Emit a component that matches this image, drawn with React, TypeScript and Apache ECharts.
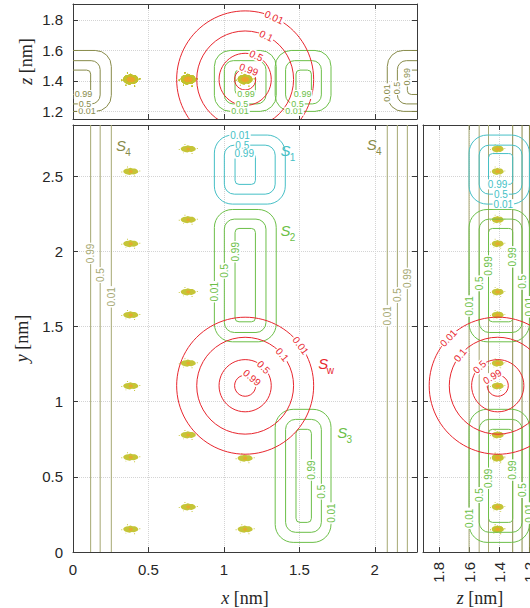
import { useEffect, useRef } from 'react';
import * as echarts from 'echarts';

// ---- simulation box (nm) ----
const BOX_X = 2.28;
const BOX_Y = 2.84;
const Z_RANGE = [1.15, 1.905];

// ---- contour levels ----
const LEVELS = ['0.01', '0.5', '0.99'];
const SW_LEVELS = ['0.01', '0.1', '0.5', '0.99'];

// Tube footprints, one [min, max] pair per level (0.01, 0.5, 0.99)
const s1X = [[0.937, 1.407], [1.003, 1.34], [1.074, 1.209]];
const s1Y = [[2.314, 2.773], [2.38, 2.706], [2.445, 2.65]];
const s2X = [[0.937, 1.347], [1.003, 1.279], [1.074, 1.209]];
const s2Y = [[1.398, 2.278], [1.46, 2.214], [1.531, 2.152]];
const s3X = [[1.34, 1.71], [1.409, 1.646], [1.478, 1.58]];
const s3Y = [[0.064, 0.949], [0.131, 0.882], [0.197, 0.816]];
const tubeZ = [[1.2, 1.6], [1.249, 1.533], [1.311, 1.471]];
// S4 slab along y, wrapping through the periodic x boundary
const s4X = [[2.083, 2.534], [2.15, 2.46], [2.216, 2.397]];

// Water sphere
const swCenter = [1.141, 1.106, 1.41];
const swR = [0.454, 0.321, 0.173, 0.07];

// Atom positions (nm)
const atomX = [0.383, 0.383, 0.383, 0.383, 0.383, 0.383, 0.764, 0.764, 0.764, 0.764, 0.764, 0.764, 1.141, 1.141];
const atomY = [2.53, 2.05, 1.576, 1.104, 0.63, 0.151, 2.68, 2.21, 1.73, 1.255, 0.778, 0.3, 0.623, 0.151];
const atomZ = [1.41, 1.41, 1.41, 1.41, 1.41, 1.41, 1.41, 1.41, 1.41, 1.41, 1.41, 1.41, 1.41, 1.41];

// ---- colours ----
const RED = '#e8262e';
const GREEN = '#6cbf48';
const CYAN = '#45bfc6';
const OLIVE = '#a6a872';
const OLIVE_DK = '#888b4a';
const INK = '#262626';
const AX = '#3a3a3a';

const RADII = [18, 10, 4];
const RADII_TOP = [16, 9, 4];

const BLOB =
  'path://M36 9.5L35 12.5L31 14.5L27 16L22 15.5L18 17L13 16L8 14.5L5 12L4 9L6 6.5L10 4.5L15 4L19 2.5L24 4L29 4L33 6Z' +
  'M0 10h2v2h-2Z M38 8h2v2h-2Z M12 0h2v2h-2Z M27 18h2v2h-2Z M9 17h1.5v1.5h-1.5Z';

type Shape =
  | { k: 'rect'; x: number[]; y: number[]; r: number; c: string }
  | { k: 'circle'; cx: number; cy: number; rad: number; c: string }
  | { k: 'vline'; x: number; c: string }
  | { k: 'text'; x: number; y: number; t: string; rot: number; c: string; font?: string; bg?: boolean; dx?: number; dy?: number }
  | { k: 'arcText'; cx: number; cy: number; rad: number; ang: number; t: string; c: string };

const LBL_FONT = '10px "Liberation Sans", Arial, sans-serif';
const SMALL_FONT = '9px "Liberation Sans", Arial, sans-serif';
const TAG_FONT = 'italic 15px "Liberation Sans", Arial, sans-serif';
const SUB_FONT = '10px "Liberation Sans", Arial, sans-serif';

function tag(shapes: Shape[], x: number, y: number, sub: string, c: string) {
  shapes.push({ k: 'text', x, y, t: 'S', rot: 0, c, font: TAG_FONT });
  shapes.push({ k: 'text', x, y, t: sub, rot: 0, c, font: SUB_FONT, dx: 7, dy: 7 });
}

// ---------- x–y view ----------
function mainShapes(): Shape[] {
  const s: Shape[] = [];
  const labels: Shape[] = [];
  LEVELS.forEach((lv, i) => {
    s.push({ k: 'vline', x: s4X[i][0], c: OLIVE });
    s.push({ k: 'vline', x: s4X[i][1] - BOX_X, c: OLIVE });
    s.push({ k: 'rect', x: s1X[i], y: s1Y[i], r: RADII[i], c: CYAN });
    s.push({ k: 'rect', x: s2X[i], y: s2Y[i], r: RADII[i], c: GREEN });
    s.push({ k: 'rect', x: s3X[i], y: s3Y[i], r: RADII[i], c: GREEN });
  });
  swR.forEach((r) => s.push({ k: 'circle', cx: swCenter[0], cy: swCenter[1], rad: r, c: RED }));

  const s4LeftY = [1.697, 1.842, 1.986];
  const s4RightY = [1.571, 1.709, 1.82];
  const s1LblX = [1.107, 1.122, 1.135];
  const s2LblY = [1.731, 1.87, 1.997];
  const s3LblY = [0.259, 0.401, 0.545];
  LEVELS.forEach((lv, i) => {
    labels.push({ k: 'text', x: s4X[i][1] - BOX_X, y: s4LeftY[i], t: lv, rot: 90, c: OLIVE, bg: true });
    labels.push({ k: 'text', x: s4X[i][0], y: s4RightY[i], t: lv, rot: 90, c: OLIVE, bg: true });
    labels.push({ k: 'text', x: s1LblX[i], y: s1Y[i][1], t: lv, rot: 0, c: CYAN, bg: true });
    labels.push({ k: 'text', x: s2X[i][0], y: s2LblY[i], t: lv, rot: 90, c: GREEN, bg: true });
    labels.push({ k: 'text', x: s3X[i][1], y: s3LblY[i], t: lv, rot: 90, c: GREEN, bg: true });
  });
  const swAng = [36, 40, 45, 50];
  SW_LEVELS.forEach((lv, i) =>
    labels.push({ k: 'arcText', cx: swCenter[0], cy: swCenter[1], rad: swR[i], ang: swAng[i], t: lv, c: RED })
  );
  tag(labels, 0.318, 2.706, '4', OLIVE_DK);
  tag(labels, 1.98, 2.713, '4', OLIVE_DK);
  tag(labels, 1.409, 2.673, '1', CYAN);
  tag(labels, 1.409, 2.141, '2', GREEN);
  tag(labels, 1.659, 1.255, 'w', RED);
  tag(labels, 1.785, 0.793, '3', GREEN);
  return s.concat(labels);
}

// ---------- x–z view ----------
function topShapes(): Shape[] {
  const s: Shape[] = [];
  const labels: Shape[] = [];
  LEVELS.forEach((lv, i) => {
    s.push({ k: 'rect', x: s4X[i], y: tubeZ[i], r: RADII_TOP[i], c: OLIVE_DK });
    s.push({ k: 'rect', x: [s4X[i][0] - BOX_X, s4X[i][1] - BOX_X], y: tubeZ[i], r: RADII_TOP[i], c: OLIVE_DK });
    s.push({ k: 'rect', x: s2X[i], y: tubeZ[i], r: RADII_TOP[i], c: GREEN });
    s.push({ k: 'rect', x: s3X[i], y: tubeZ[i], r: RADII_TOP[i], c: GREEN });
  });
  swR.forEach((r) => s.push({ k: 'circle', cx: swCenter[0], cy: swCenter[2], rad: r, c: RED }));

  const s4LeftX = [0.093, 0.08, 0.07];
  const s4RightZ = [1.32, 1.354, 1.427];
  const s2LblX = [1.107, 1.12, 1.146];
  const s3LblX = [1.465, 1.488, 1.522];
  LEVELS.forEach((lv, i) => {
    labels.push({ k: 'text', x: s4LeftX[i], y: tubeZ[i][0], t: lv, rot: 0, c: OLIVE_DK, bg: true, font: SMALL_FONT });
    labels.push({ k: 'text', x: s4X[i][0], y: s4RightZ[i], t: lv, rot: 90, c: OLIVE_DK, bg: true, font: SMALL_FONT });
    labels.push({ k: 'text', x: s2LblX[i], y: tubeZ[i][0], t: lv, rot: 0, c: GREEN, bg: true, font: SMALL_FONT });
    labels.push({ k: 'text', x: s3LblX[i], y: tubeZ[i][0], t: lv, rot: 0, c: GREEN, bg: true, font: SMALL_FONT });
  });
  const swAng = [65, 64, 65, 70];
  SW_LEVELS.forEach((lv, i) =>
    labels.push({ k: 'arcText', cx: swCenter[0], cy: swCenter[2], rad: swR[i], ang: swAng[i], t: lv, c: RED })
  );
  return s.concat(labels);
}

// ---------- z–y view ----------
function rightShapes(): Shape[] {
  const s: Shape[] = [];
  const labels: Shape[] = [];
  LEVELS.forEach((lv, i) => {
    s.push({ k: 'vline', x: tubeZ[i][0], c: OLIVE_DK });
    s.push({ k: 'vline', x: tubeZ[i][1], c: OLIVE });
  });
  LEVELS.forEach((lv, i) => {
    s.push({ k: 'rect', x: tubeZ[i], y: s1Y[i], r: RADII[i], c: CYAN });
    s.push({ k: 'rect', x: tubeZ[i], y: s2Y[i], r: RADII[i], c: GREEN });
    s.push({ k: 'rect', x: tubeZ[i], y: s3Y[i], r: RADII[i], c: GREEN });
  });
  swR.forEach((r) => s.push({ k: 'circle', cx: swCenter[2], cy: swCenter[1], rad: r, c: RED }));

  const s1LblZ = [1.373, 1.389, 1.411];
  const s2HiY = [1.636, 1.787, 1.902];
  const s2LoY = [1.631, 1.797, 1.963];
  const s3HiY = [0.224, 0.379, 0.49];
  const s3LoY = [0.259, 0.412, 0.545];
  LEVELS.forEach((lv, i) => {
    labels.push({ k: 'text', x: s1LblZ[i], y: s1Y[i][0], t: lv, rot: 0, c: CYAN, bg: true });
    labels.push({ k: 'text', x: tubeZ[i][1], y: s2HiY[i], t: lv, rot: 90, c: GREEN, bg: true });
    labels.push({ k: 'text', x: tubeZ[i][0], y: s2LoY[i], t: lv, rot: 90, c: GREEN, bg: true });
    labels.push({ k: 'text', x: tubeZ[i][1], y: s3HiY[i], t: lv, rot: 90, c: GREEN, bg: true });
    labels.push({ k: 'text', x: tubeZ[i][0], y: s3LoY[i], t: lv, rot: 90, c: GREEN, bg: true });
  });
  const swAng = [136, 141, 134, 121];
  SW_LEVELS.forEach((lv, i) =>
    labels.push({ k: 'arcText', cx: swCenter[2], cy: swCenter[1], rad: swR[i], ang: swAng[i], t: lv, c: RED })
  );
  return s.concat(labels);
}

function textEl(x: number, y: number, t: string, rotDeg: number, c: string, font: string, bg: boolean) {
  return {
    type: 'text',
    x,
    y,
    rotation: (rotDeg * Math.PI) / 180,
    z2: 10,
    style: {
      text: t,
      fill: c,
      font,
      lineHeight: parseInt(font.replace(/^\D*/, ''), 10),
      align: 'center',
      verticalAlign: 'middle',
      backgroundColor: bg ? '#ffffff' : 'transparent',
      padding: bg ? [0, 1] : 0,
    },
  };
}

function renderer(shapes: Shape[]) {
  return (params: any, api: any) => {
    const s = shapes[params.dataIndex];
    const cs = params.coordSys;
    if (s.k === 'rect') {
      const a = api.coord([s.x[0], s.y[0]]);
      const b = api.coord([s.x[1], s.y[1]]);
      return {
        type: 'rect',
        z2: 1,
        shape: {
          x: Math.min(a[0], b[0]),
          y: Math.min(a[1], b[1]),
          width: Math.abs(b[0] - a[0]),
          height: Math.abs(b[1] - a[1]),
          r: s.r,
        },
        style: { fill: 'none', stroke: s.c, lineWidth: 1 },
      };
    }
    if (s.k === 'circle') {
      const c = api.coord([s.cx, s.cy]);
      const e = api.coord([s.cx + s.rad, s.cy]);
      return {
        type: 'circle',
        z2: 2,
        shape: { cx: c[0], cy: c[1], r: Math.abs(e[0] - c[0]) },
        style: { fill: 'none', stroke: s.c, lineWidth: 1 },
      };
    }
    if (s.k === 'vline') {
      const p = api.coord([s.x, 0]);
      return {
        type: 'line',
        z2: 0,
        shape: { x1: p[0], y1: cs.y, x2: p[0], y2: cs.y + cs.height },
        style: { stroke: s.c, lineWidth: 1 },
      };
    }
    if (s.k === 'text') {
      const p = api.coord([s.x, s.y]);
      return textEl(p[0] + (s.dx || 0), p[1] + (s.dy || 0), s.t, s.rot, s.c, s.font || LBL_FONT, !!s.bg);
    }
    const c = api.coord([s.cx, s.cy]);
    const e = api.coord([s.cx + s.rad, s.cy]);
    const r = Math.abs(e[0] - c[0]);
    const a = (s.ang * Math.PI) / 180;
    return textEl(c[0] + r * Math.cos(a), c[1] - r * Math.sin(a), s.t, s.ang - 90, s.c, LBL_FONT, true);
  };
}

function contourSeries(shapes: Shape[], xIdx: number, yIdx: number, anchor: number[]) {
  return {
    type: 'custom',
    xAxisIndex: xIdx,
    yAxisIndex: yIdx,
    clip: true,
    silent: true,
    z: 5,
    data: shapes.map(() => anchor),
    renderItem: renderer(shapes),
  };
}

function atomSeries(pts: number[][], xIdx: number, yIdx: number, size: number[], core: number[]) {
  return [
    {
      type: 'scatter',
      xAxisIndex: xIdx,
      yAxisIndex: yIdx,
      silent: true,
      z: 2,
      symbol: BLOB,
      symbolSize: size,
      itemStyle: { color: '#c2c22c', opacity: 0.95 },
      data: pts,
    },
    {
      type: 'scatter',
      xAxisIndex: xIdx,
      yAxisIndex: yIdx,
      silent: true,
      z: 3,
      symbol: 'circle',
      symbolSize: core,
      itemStyle: { color: '#eba52c', opacity: 0.85 },
      data: pts,
    },
  ];
}

const SERIF = '"Liberation Serif", "DejaVu Serif", serif';
const nameStyle = {
  fontFamily: SERIF,
  fontSize: 18,
  lineHeight: 18,
  color: INK,
  rich: {
    i: { fontFamily: SERIF, fontStyle: 'italic', fontSize: 18, lineHeight: 18, color: INK },
  },
};
const labelStyle = { color: INK, fontSize: 15, fontFamily: '"Liberation Sans", Arial, sans-serif', margin: 10 };
const splitStyle = { show: true, lineStyle: { color: '#d4d4d4', type: 'dotted', width: 1 } };

const halfFmt = (v: number) => (Math.abs(v * 2 - Math.round(v * 2)) < 1e-6 ? String(Math.round(v * 2) / 2) : '');
const fifthFmt = (v: number) => {
  const k = Math.round(v * 5);
  return Math.abs(v * 5 - k) < 1e-6 ? (k / 5).toFixed(1) : '';
};

function axis(gridIndex: number, position: string, extra: any) {
  return {
    type: 'value',
    gridIndex,
    position,
    nameMoveOverlap: false,
    axisLine: { show: true, onZero: false, lineStyle: { color: AX, width: 1 } },
    axisTick: { show: true, inside: true, length: 5, lineStyle: { color: AX } },
    splitLine: { show: false },
    axisLabel: { show: false },
    ...extra,
  };
}

function buildOption() {
  const xy = atomX.map((x, i) => [x, atomY[i]]);
  const xz = atomX.map((x, i) => [x, atomZ[i]]);
  const zy = atomZ.map((z, i) => [z, atomY[i]]);
  const xScale = { min: 0, max: BOX_X, interval: 0.5 };
  const yScale = { min: 0, max: BOX_Y, interval: 0.5 };
  const zScale = { min: Z_RANGE[0], max: Z_RANGE[1], splitNumber: 4 };

  return {
    animation: false,
    backgroundColor: '#ffffff',
    grid: [
      { left: 73, top: 125, width: 344, height: 427, outerBoundsMode: 'none', containLabel: false },
      { left: 73, top: 4, width: 344, height: 115, outerBoundsMode: 'none', containLabel: false },
      { left: 423, top: 125, width: 114, height: 427, outerBoundsMode: 'none', containLabel: false },
    ],
    // x axes: 0/1 main (bottom/top), 2/3 x–z strip, 4/5 z–y strip
    xAxis: [
      axis(0, 'bottom', {
        ...xScale,
        splitLine: splitStyle,
        axisLabel: { ...labelStyle, formatter: halfFmt },
        name: '{i|x} [nm]',
        nameLocation: 'middle',
        nameGap: 37,
        nameTextStyle: nameStyle,
      }),
      axis(0, 'top', { ...xScale }),
      axis(1, 'bottom', { ...xScale, splitLine: splitStyle }),
      axis(1, 'top', { ...xScale }),
      axis(2, 'bottom', {
        ...zScale,
        inverse: true,
        splitLine: splitStyle,
        axisLabel: { ...labelStyle, rotate: 90, formatter: fifthFmt },
        name: '{i|z} [nm]',
        nameLocation: 'middle',
        nameGap: 37,
        nameTextStyle: nameStyle,
      }),
      axis(2, 'top', { ...zScale, inverse: true }),
    ],
    // y axes: 0/1 main (left/right), 2/3 x–z strip, 4 z–y strip
    yAxis: [
      axis(0, 'left', {
        ...yScale,
        splitLine: splitStyle,
        axisLabel: { ...labelStyle, formatter: halfFmt },
        name: '{i|y} [nm]',
        nameLocation: 'middle',
        nameGap: 42,
        nameRotate: 90,
        nameTextStyle: nameStyle,
      }),
      axis(0, 'right', { ...yScale }),
      axis(1, 'left', {
        ...zScale,
        splitLine: splitStyle,
        axisLabel: { ...labelStyle, formatter: fifthFmt },
        name: '{i|z} [nm]',
        nameLocation: 'middle',
        nameGap: 38,
        nameRotate: 90,
        nameTextStyle: nameStyle,
      }),
      axis(1, 'right', { ...zScale }),
      axis(2, 'left', { ...yScale, splitLine: splitStyle }),
    ],
    series: [
      ...atomSeries(xy, 0, 0, [19, 10], [4, 3]),
      ...atomSeries(xz, 2, 2, [19, 15], [8, 5]),
      ...atomSeries(zy, 4, 4, [15, 10], [5, 3]),
      contourSeries(mainShapes(), 0, 0, [1, 1]),
      contourSeries(topShapes(), 2, 2, [1, 1.5]),
      contourSeries(rightShapes(), 4, 4, [1.5, 1]),
    ],
  };
}

export default function App() {
  const ref = useRef<HTMLDivElement>(null);
  useEffect(() => {
    if (!ref.current) return;
    const chart = echarts.init(ref.current, null, { renderer: 'svg' });
    chart.setOption(buildOption() as any);
    return () => chart.dispose();
  }, []);
  return <div ref={ref} style={{ position: 'absolute', left: 0, top: 0, width: 530, height: 608 }} />;
}
